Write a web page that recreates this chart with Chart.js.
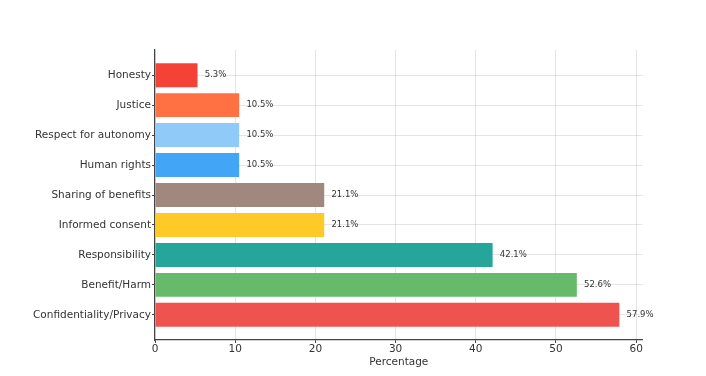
<!DOCTYPE html>
<html><head><meta charset="utf-8">
<script src="https://cdn.jsdelivr.net/npm/chart.js@4.4.0/dist/chart.umd.min.js"></script>
<style>html,body{margin:0;padding:0;background:#fff}#wrap{width:706px;height:376px}</style>
</head><body><div id="wrap"><canvas id="c" width="706" height="376"></canvas></div>
<script>
const categories = ["Honesty","Justice","Respect for autonomy","Human rights","Sharing of benefits","Informed consent","Responsibility","Benefit/Harm","Confidentiality/Privacy"];
const values = [5.3,10.5,10.5,10.5,21.1,21.1,42.1,52.6,57.9];
const colors = ["#F44336","#FF7043","#90CAF9","#42A5F5","#A1887F","#FFCA28","#26A69A","#66BB6A","#EF5350"];
const xTicks = [0,10,20,30,40,50,60];

const FONT = "'DejaVu Sans', sans-serif";
const valueLabels = {
  id:'valueLabels',
  afterDatasetsDraw(chart){
    const ctx = chart.ctx, xs = chart.scales.x, ys = chart.scales.y;
    ctx.save();
    ctx.font = "8.5px " + FONT;
    ctx.fillStyle = "#333";
    ctx.textBaseline = "middle";
    ctx.textAlign = "left";
    values.forEach((v,i)=>{
      ctx.fillText(v.toFixed(1)+"%", xs.getPixelForValue(v+0.9), ys.getPixelForValue(i));
    });
    ctx.restore();
  }
};

new Chart(document.getElementById('c'), {
  type:'bar',
  data:{
    datasets:[{
      data: values.map((v,i)=>({x:v,y:i})),
      backgroundColor: colors,
      borderWidth:0,
      barPercentage:0.8,
      categoryPercentage:1.0
    }]
  },
  options:{
    indexAxis:'y',
    responsive:false,
    animation:false,
    layout:{padding:{top:50,right:63.4,left:0,bottom:0}},
    plugins:{legend:{display:false},tooltip:{enabled:false}},
    scales:{
      y:{
        type:'linear',
        reverse:true,
        offset:false,
        min:-0.84, max:8.84,
        afterBuildTicks(s){ s.ticks = categories.map((_,i)=>({value:i})); },
        afterFit(s){ s.width = 155; },
        ticks:{ callback:(v)=>categories[v], font:{family:FONT,size:10.5}, color:"#333", padding:1 },
        grid:{ offset:false, color:"rgba(0,0,0,0.10)", borderDash:[3,3], tickLength:3, tickColor:"#444", tickBorderDash:[], tickWidth:1 },
        border:{ display:true, color:"#444", width:1.2 }
      },
      x:{
        type:'linear',
        min:0, max:60.8,
        afterBuildTicks(s){ s.ticks = xTicks.map(v=>({value:v})); },
        afterFit(s){ s.height = 36; },
        ticks:{ font:{family:FONT,size:10.5}, color:"#333", padding:0, maxRotation:0 },
        grid:{ color:"rgba(0,0,0,0.10)", borderDash:[3,3], tickLength:3, tickColor:"#444", tickBorderDash:[], tickWidth:1 },
        border:{ display:true, color:"#444", width:1.2 },
        title:{ display:true, text:"Percentage", font:{family:FONT,size:10.5}, color:"#333", padding:{top:1,bottom:7} }
      }
    }
  },
  plugins:[valueLabels]
});
</script></body></html>
